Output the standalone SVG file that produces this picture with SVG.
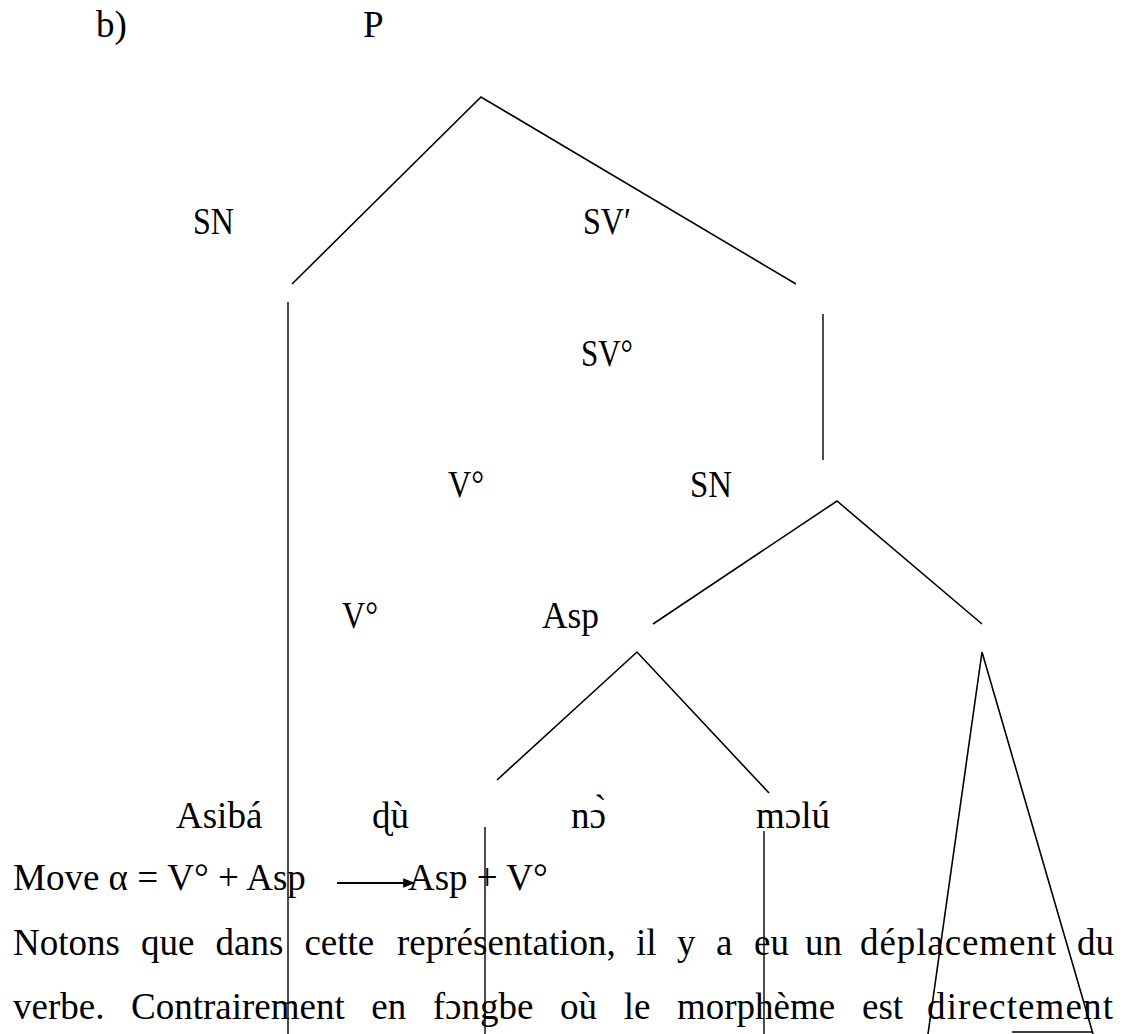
<svg xmlns="http://www.w3.org/2000/svg" width="1126" height="1034" viewBox="0 0 1126 1034">
<defs>
<style>
text{font-family:"Liberation Serif","Times New Roman",serif;font-size:37px;fill:#000}
.e{stroke:#000;stroke-width:1.6;fill:none}
.v{stroke:#000;stroke-width:1.4;fill:none}
</style>
<marker id="ah" viewBox="0 0 10 10" refX="9" refY="5" markerWidth="6" markerHeight="6" markerUnits="strokeWidth" orient="auto">
<path d="M0,1 L10,5 L0,9 z" fill="#000"/>
</marker>
</defs>
<rect width="1126" height="1034" fill="#fff"/>
<g id="label-b"><text x="96" y="37">b)</text></g>
<g id="node-P"><text x="363" y="37">P</text></g>
<g id="node-SN1"><text x="193" y="234" textLength="41" lengthAdjust="spacingAndGlyphs">SN</text></g>
<g id="node-SVprime"><text x="583" y="234" textLength="48" lengthAdjust="spacingAndGlyphs">SV′</text></g>
<g id="node-SVdeg"><text x="581" y="366" textLength="52" lengthAdjust="spacingAndGlyphs">SV°</text></g>
<g id="node-V1"><text x="448" y="497" textLength="36" lengthAdjust="spacingAndGlyphs">V°</text></g>
<g id="node-SN2"><text x="690" y="497" textLength="42" lengthAdjust="spacingAndGlyphs">SN</text></g>
<g id="node-V2"><text x="342" y="628" textLength="36" lengthAdjust="spacingAndGlyphs">V°</text></g>
<g id="node-Asp"><text x="542" y="628" textLength="57" lengthAdjust="spacingAndGlyphs">Asp</text></g>
<g id="node-Asiba"><text x="176" y="828">Asibá</text></g>
<g id="node-du"><text x="372" y="828">ɖù</text></g>
<g id="node-no"><text x="571" y="828">nɔ̀</text></g>
<g id="node-molu"><text x="756" y="828">mɔlú</text></g>
<g id="rule">
<text x="13" y="890">Move α = V° + Asp</text>
<text x="408" y="890">Asp + V°</text>
</g>
<g id="paragraph">
<text y="955"><tspan x="13">Notons</tspan><tspan x="141">que</tspan><tspan x="215.5">dans</tspan><tspan x="304.4">cette</tspan><tspan x="397">représentation,</tspan><tspan x="636">il</tspan><tspan x="677">y</tspan><tspan x="716">a</tspan><tspan x="754">eu</tspan><tspan x="805">un</tspan><tspan x="860" textLength="196" lengthAdjust="spacing">déplacement</tspan><tspan x="1077">du</tspan></text>
<text y="1019"><tspan x="13">verbe.</tspan><tspan x="131">Contrairement</tspan><tspan x="371.3">en</tspan><tspan x="432.8">fɔngbe</tspan><tspan x="560.1">où</tspan><tspan x="623.7">le</tspan><tspan x="677">morphème</tspan><tspan x="862">est</tspan><tspan x="927" textLength="186" lengthAdjust="spacing">directement</tspan></text>
</g>
<g id="connectors">
<polyline class="e" points="292,284 481,97 796,284"/>
<line class="v" x1="288" y1="302" x2="288" y2="1034"/>
<line class="v" x1="823" y1="314" x2="823" y2="460"/>
<polyline class="e" points="653,624 837,501 982,624"/>
<polyline class="e" points="497,780 637,652 769,793"/>
<line class="v" x1="485" y1="827" x2="485" y2="1034"/>
<line class="v" x1="764" y1="831" x2="764" y2="1034"/>
<polyline class="e" points="928,1034 982,652 1093,1034"/>
<line class="v" x1="1012" y1="1032" x2="1093" y2="1032"/>
<line x1="337" y1="883" x2="414" y2="883" stroke="#000" stroke-width="2" marker-end="url(#ah)"/>
</g>
</svg>
